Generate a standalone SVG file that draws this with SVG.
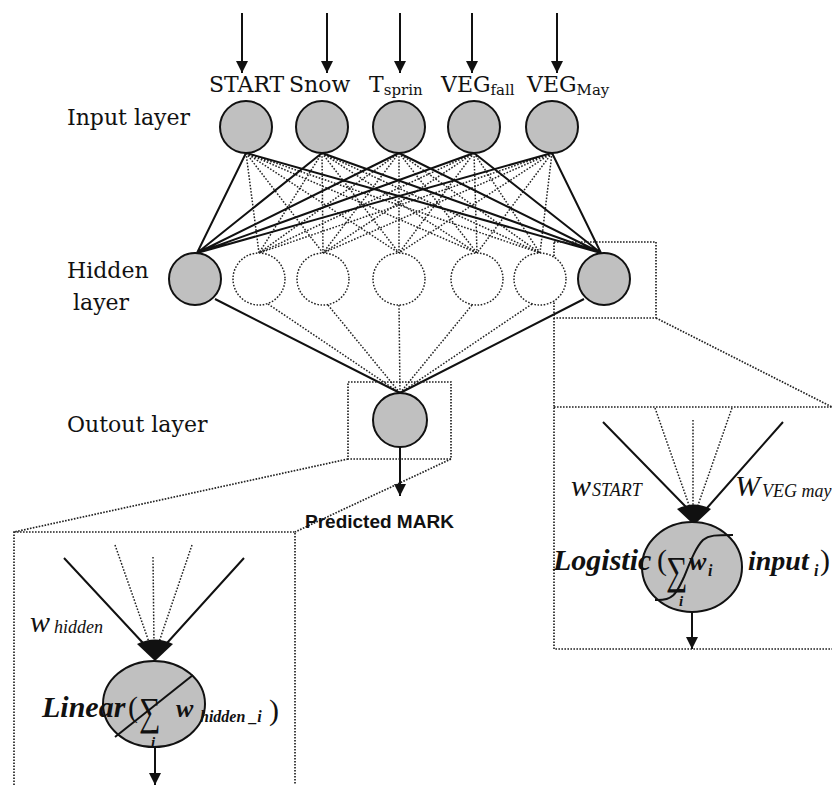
<svg xmlns="http://www.w3.org/2000/svg" width="832" height="785" viewBox="0 0 832 785">
<style>
.lbl{font-family:"DejaVu Serif","Liberation Serif",serif;font-size:22px;fill:#111}
.sub{font-family:"DejaVu Serif","Liberation Serif",serif;font-size:15px;fill:#111}
.solid{stroke:#111;stroke-width:2;fill:none}
.dash{stroke:#222;stroke-width:1.5;stroke-dasharray:1.6 1.6;fill:none}
.box{stroke:#222;stroke-width:1.7;stroke-dasharray:1.6 1.4;fill:none}
.node{fill:#c0c0c0;stroke:#111;stroke-width:2}
.dnode{fill:#fff;stroke:#222;stroke-width:1.5;stroke-dasharray:1.6 1.6}
.it{font-family:"Liberation Serif",serif;font-style:italic;fill:#111}
.bi{font-family:"Liberation Serif",serif;font-style:italic;font-weight:bold;fill:#111}
.rg{font-family:"Liberation Serif",serif;fill:#111}
.pm{font-family:"Liberation Sans",Arial,sans-serif;font-weight:bold;font-size:19px;fill:#111}
</style>
<defs>
<marker id="ah" viewBox="0 0 12 12" refX="12" refY="6" markerWidth="12" markerHeight="12" markerUnits="userSpaceOnUse" orient="auto">
<path d="M0,0 L12,6 L0,12 z" fill="#111"/>
</marker>
</defs>
<rect width="832" height="785" fill="#fff"/>

<g id="layer-labels">
<text class="lbl" x="67" y="125">Input layer</text>
<text class="lbl" x="67" y="278">Hidden</text>
<text class="lbl" x="73" y="310">layer</text>
<text class="lbl" x="67" y="432">Outout  layer</text>
</g>

<g id="input-labels">
<text class="lbl" x="209" y="92">START</text>
<text class="lbl" x="289" y="92">Snow</text>
<text class="lbl" x="369" y="92">T<tspan class="sub" dy="3">sprin</tspan></text>
<text class="lbl" x="441" y="92">VEG<tspan class="sub" dy="3">fall</tspan></text>
<text class="lbl" x="527" y="92">VEG<tspan class="sub" dy="3">May</tspan></text>
</g>

<g id="connectors">
<line class="solid" x1="242" y1="13" x2="242" y2="73" marker-end="url(#ah)"/>
<line class="solid" x1="327" y1="13" x2="327" y2="73" marker-end="url(#ah)"/>
<line class="solid" x1="400" y1="13" x2="400" y2="73" marker-end="url(#ah)"/>
<line class="solid" x1="472" y1="13" x2="472" y2="73" marker-end="url(#ah)"/>
<line class="solid" x1="557" y1="13" x2="557" y2="73" marker-end="url(#ah)"/>
<g class="dash">
<path d="M246,153 L259,253 M246,153 L323,253 M246,153 L399,253 M246,153 L477,253 M246,153 L540,253"/>
<path d="M322,153 L259,253 M322,153 L323,253 M322,153 L399,253 M322,153 L477,253 M322,153 L540,253"/>
<path d="M399,153 L259,253 M399,153 L323,253 M399,153 L399,253 M399,153 L477,253 M399,153 L540,253"/>
<path d="M474,153 L259,253 M474,153 L323,253 M474,153 L399,253 M474,153 L477,253 M474,153 L540,253"/>
<path d="M552,153 L259,253 M552,153 L323,253 M552,153 L399,253 M552,153 L477,253 M552,153 L540,253"/>
</g>
<path class="solid" d="M246,153 L197,253 M322,153 L197,253 M399,153 L197,253 M474,153 L197,253 M552,153 L197,253"/>
<path class="solid" d="M246,153 L601,253 M322,153 L601,253 M399,153 L601,253 M474,153 L601,253 M552,153 L601,253"/>
<path class="dash" d="M268,304 L400,393 M328,305 L400,393 M399,305 L400,393 M472,305 L400,393 M532,304 L400,393"/>
<path class="solid" d="M215,299 L400,393 M584,299 L400,393"/>
<line class="solid" x1="400" y1="447" x2="400" y2="496" marker-end="url(#ah)"/>
<rect class="box" x="348" y="382" width="103" height="77"/>
<path class="box" d="M348,459 L14,532 M451,459 L295,532"/>
<rect class="box" x="14" y="532" width="281" height="270"/>
<rect class="box" x="554" y="242" width="102" height="76"/>
<path class="box" d="M554,318 L554,407 M656,318 L832,407"/>
<rect class="box" x="554" y="407" width="290" height="242"/>
</g>

<g id="input-nodes">
<circle class="node" cx="246" cy="127" r="26"/>
<circle class="node" cx="322" cy="127" r="26"/>
<circle class="node" cx="399" cy="127" r="26"/>
<circle class="node" cx="474" cy="127" r="26"/>
<circle class="node" cx="552" cy="127" r="26"/>
</g>

<g id="hidden-nodes">
<circle class="node" cx="195" cy="279" r="26"/>
<circle class="dnode" cx="259" cy="279" r="26"/>
<circle class="dnode" cx="323" cy="279" r="26"/>
<circle class="dnode" cx="399" cy="279" r="26"/>
<circle class="dnode" cx="477" cy="279" r="26"/>
<circle class="dnode" cx="540" cy="279" r="26"/>
<circle class="node" cx="604" cy="279" r="26"/>
</g>

<g id="output-node">
<circle class="node" cx="400" cy="420" r="27"/>
<text class="pm" x="305" y="528">Predicted MARK</text>
</g>

<g id="output-detail">
<path class="solid" d="M64,558 L143,643 M244,558 L167,643"/>
<path class="dash" d="M115,545 L150,645 M153,557 L154,645 M192,545 L158,645"/>
<path d="M137,644 Q155,635 173,644 L155,661 Z" fill="#111"/>
<text class="it" x="30" y="632" font-size="30">w</text>
<text class="it" x="54" y="633" font-size="18">hidden</text>
<ellipse class="node" cx="154" cy="704" rx="51" ry="43"/>
<text class="bi" x="42" y="717" font-size="30">Linear</text>
<text class="rg" x="128" y="717" font-size="30">(</text>
<text class="rg" font-size="40" transform="translate(139,725) scale(0.75,1)">∑</text>
<text class="bi" x="151" y="747" font-size="15">i</text>
<text class="bi" x="176" y="717" font-size="26">w</text>
<text class="bi" x="200" y="722" font-size="16">hidden _i</text>
<text class="rg" x="269" y="720" font-size="30">)</text>
<line class="solid" x1="115" y1="737" x2="193" y2="675"/>
<line class="solid" x1="155" y1="747" x2="155" y2="785" marker-end="url(#ah)"/>
</g>

<g id="hidden-detail">
<path class="solid" d="M603,422 L687,508 M783,422 L707,508"/>
<path class="dash" d="M655,408 L690,508 M693,420 L693,508 M732,408 L697,508"/>
<path d="M677,509 Q694,500 711,509 L694,525 Z" fill="#111"/>
<text class="it" x="571" y="496" font-size="30">w</text>
<text class="it" x="592" y="496" font-size="18">START</text>
<text class="it" x="735" y="496" font-size="30">W</text>
<text class="it" x="762" y="497" font-size="18">VEG may</text>
<ellipse class="node" cx="692" cy="567" rx="50" ry="45"/>
<text class="bi" x="553" y="570" font-size="30">Logistic</text>
<text class="rg" x="657" y="570" font-size="30">(</text>
<text class="rg" font-size="40" transform="translate(666,584) scale(0.75,1)">∑</text>
<text class="bi" x="679" y="606" font-size="15">i</text>
<text class="bi" x="689" y="570" font-size="26">w</text>
<text class="bi" x="708" y="576" font-size="16">i</text>
<text class="bi" x="748" y="570" font-size="28">input</text>
<text class="bi" x="814" y="576" font-size="16">i</text>
<text class="rg" x="820" y="570" font-size="30">)</text>
<path class="solid" d="M655,600 C674,601 677,592 684,577 C691,560 696,547 703,540 C709,535 716,535 733,535"/>
<line class="solid" x1="692" y1="612" x2="692" y2="649" marker-end="url(#ah)"/>
</g>
</svg>
